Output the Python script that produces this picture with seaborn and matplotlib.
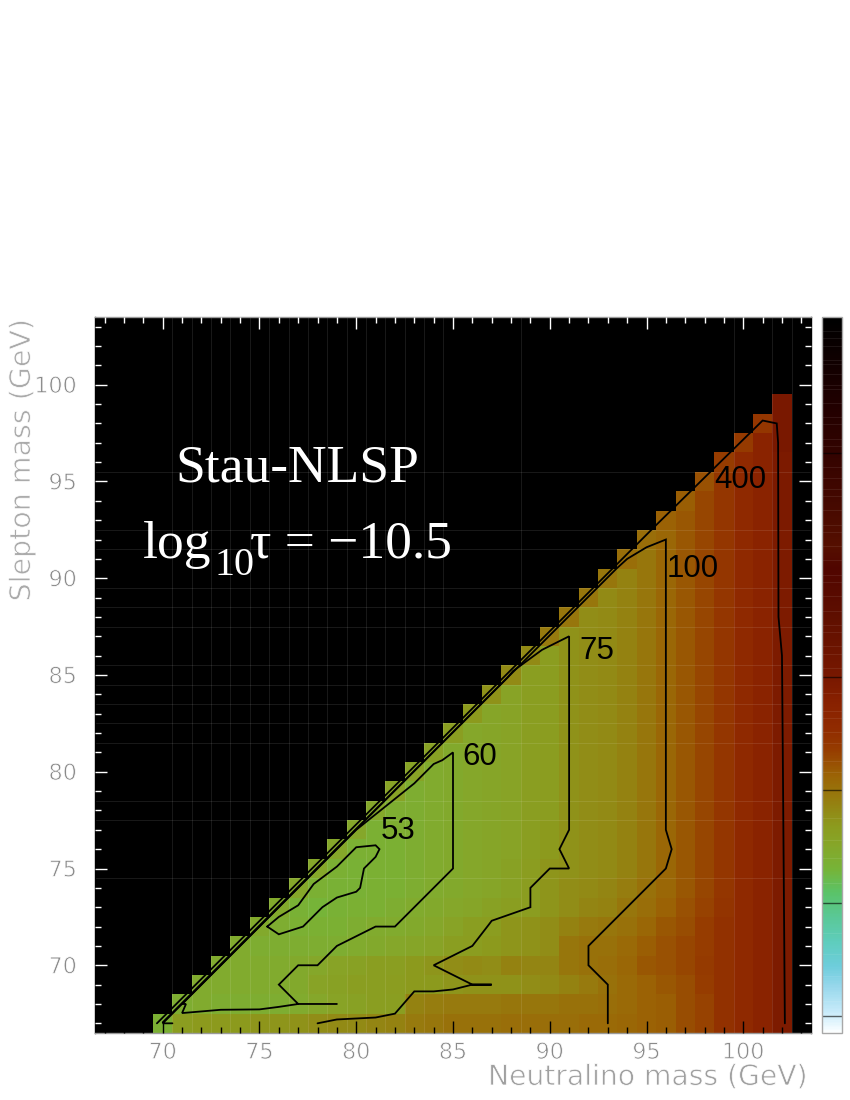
import numpy as np
import pandas as pd
import matplotlib
matplotlib.use("Agg")
import matplotlib.pyplot as plt
import matplotlib.patheffects as pe
from matplotlib.colors import LinearSegmentedColormap
import seaborn as sns

sns.set_theme(style="white")
plt.rcParams["font.family"] = ["Liberation Sans", "DejaVu Sans"]

# ------------------------------------------------------------------ data
x_centres = list(range(67, 104))
y_centres = list(range(67, 104))

T = [30, 30.5, 31, 32, 33.5, 35.5, 37, 38.5, 40.5, 43, 45.5, 48.5]  # x = 91..102, upper rows

# each row: slepton mass -> colour-scale values from x = y + 3 up to x = 102
row_values = {
    99: [49.5],
    98: [40.5, 49.5],
    97: [40, 45.5, 49.5],
    96: [39.5, 43, 45.5, 49],
    95: [37.5, 40.5, 43, 45.5, 49],
    94: [36.5, 38.5, 40.5, 43, 45.5, 49],
    93: [36, 37, 38.5, 40.5, 43, 45.5, 49],
    92: [34.5, 35.5, 37, 38.5, 40.5, 43, 45.5, 48.5],
    91: [34.5, 33.5, 35.5, 37, 38.5, 40.5, 43, 45.5, 48.5],
    90: [33.5, 32, 33.5, 35.5, 37, 38.5, 40.5, 43, 45.5, 48.5],
    89: [33.5, 31, 32, 33.5, 35.5, 37, 38.5, 40.5, 43, 45.5, 48.5],
    88: [33.5] + [30.5, 31, 32, 33.5, 35.5, 37, 38.5, 40.5, 43, 45.5, 48.5],
    87: [33] + T,
    86: [31, 28.5] + T,
    85: [31, 28, 28.5] + T,
    84: [30, 27, 28, 28.5] + T,
    83: [29, 26.5, 27, 28, 28.5] + T,
    82: [28, 26, 26.5, 27, 28, 28.5] + T,
    81: [27.5, 25.5, 26, 26.5, 27, 28, 28.5] + T,
    80: [27, 25, 25.5, 26, 26.5, 27, 28, 28.5] + T,
    79: [27, 24.5, 25, 25.5, 26, 26.5, 27, 28, 28.5] + T,
    78: [26, 24.5, 24.5, 25, 25.5, 26, 26.5, 27, 28, 28.5] + T,
    77: [26, 24, 24.5, 24.5, 25, 25.5, 26, 26.5, 27, 28, 29] + T,
    76: [26, 24, 24, 24, 24.5, 25, 25.5, 26, 26.5, 27, 28, 29] + T,
    75: [26, 24, 23.5, 24, 24, 24.5, 25, 25.5, 26, 26.5, 27.5, 28.5, 29.5] + T,
    74: [26, 24, 23.5, 23.5, 24, 24, 24.5, 25, 25.5, 26, 26.5, 27.5, 28.5, 29.5,
         30.5, 31, 31.5, 32.5, 34, 35.5, 37, 38.5, 40.5, 43, 45.5, 48.5],
    73: [25.5, 23.5, 23, 23.5, 24, 24, 24.5, 25, 25.5, 26, 26.5, 27.5, 28, 28.5, 29.5,
         30.5, 31.5, 32, 33.5, 34.5, 36, 37.5, 39, 41, 43, 45.5, 48.5],
    72: [25.5, 24.5, 24, 24, 24, 24.5, 25, 25, 25.5, 26, 27, 28, 28.5, 29.5, 30, 30.5,
         32, 33, 33.5, 34, 35.5, 37, 38, 39.5, 41.5, 43, 45.5, 48.5],
    71: [25, 24.5, 24.5, 24.5, 24.5, 24.5, 25, 25.5, 26, 26.5, 27, 28, 28.5, 29, 29.5, 30, 30.5,
         33.5, 34, 34, 35, 36.5, 37.5, 38.5, 39.5, 41.5, 43, 45.5, 48.5],
    70: [25, 25, 25, 25, 25.5, 26, 27, 27.5, 28, 28, 29, 29.5, 30.5, 31, 30.5, 32, 31.5, 31.5,
         33.5, 34, 34.5, 35.5, 37, 37.5, 38.5, 40, 41.5, 43, 45.5, 48.5],
    69: [25, 25, 25, 25, 25, 25.5, 27, 27.5, 28, 28, 28.5, 29, 29, 29.5, 30, 30, 30, 30.5, 31,
         32, 33, 34, 35, 36, 37, 38, 39.5, 41.5, 43, 45.5, 48.5],
    68: [24.5, 25, 24.5, 24.5, 24.5, 24.5, 25, 26, 27, 27.5, 28, 28, 32, 32.5, 33, 33, 33, 33.5, 33.5, 33.5,
         34, 34, 34.5, 35, 36, 36.5, 38, 39, 41.5, 43, 45.5, 48.5],
    67: [24, 28.5, 29, 29, 29, 29.5, 29.5, 30, 30.5, 31, 31, 31.5, 32, 33, 33.5, 34, 34, 34, 34.5, 34.5, 34.5,
         34.5, 35, 35, 35.5, 36, 36.5, 38, 39, 41.5, 43, 45.5, 48.5],
}

# contour polylines
c53_x = [75.4, 76, 77.25, 78.25, 79, 80, 80.2, 80.4, 81, 81.2, 81, 80, 79, 77.8, 77, 76, 75.4]
c53_y = [72, 71.6, 72, 73, 73.5, 73.8, 74, 75, 75.6, 76, 76.2, 76.1, 75.1, 74.2, 73.1, 72.5, 72]
c60_x = [79, 77, 76, 77, 78, 79, 81, 82, 85, 85, 84.45, 84, 83, 82, 81, 80, 71, 71.2, 71, 73, 75, 76, 77]
c60_y = [68, 68, 69, 70, 70, 71, 72, 72, 75, 81, 80.6, 80.4, 79.4, 78.6, 77.8, 77, 68, 68, 67.53, 67.7, 67.72, 67.85, 68]
c75_x = [78, 79, 81, 82, 83, 84, 85, 86, 87, 86, 84, 86, 86.85, 87, 89, 89, 90, 91, 90.5, 91, 91, 89.6, 88.1, 87.8, 70, 70.5]
c75_y = [67, 67.2, 67.3, 67.5, 68.65, 68.65, 68.75, 69, 69, 69, 70, 71, 72.1, 72.3, 73, 74, 75, 75, 76, 77, 87, 86.3, 85.2, 84.85, 67, 67]
c100_x = [93, 93, 92, 92, 96, 96.3, 96, 96, 95, 94, 93.45, 92.45, 70]
c100_y = [67, 69, 70, 71, 75, 76, 77, 92, 91.6, 91, 90.5, 89.5, 67.05]
c400_x = [102.15, 102.05, 102, 101.82, 101.8, 101.73, 101, 95.5, 69.7]
c400_y = [67, 80, 86, 88, 97, 98, 98.15, 92.75, 67]

contour_lines = [(c53_x, c53_y), (c60_x, c60_y), (c75_x, c75_y), (c100_x, c100_y), (c400_x, c400_y)]
contour_names = ["53", "60", "75", "100", "400"]
x_ticks = [70, 75, 80, 85, 90, 95, 100]
y_ticks = [70, 75, 80, 85, 90, 95, 100]
x_seams = [70.5, 71.5, 72.5, 73.5, 74.5, 75.5, 76.5, 77.5, 78.5, 79.5, 80.5, 81.5, 82.5, 83.5, 84.5, 88.5, 99.5, 101.5, 102.5]
y_seams = [74.5, 77.5, 78.5, 81.5, 82.5, 83.5, 84.5, 85.5, 87.5, 88.5, 89.5, 91.5, 92.5, 95.5]

# colour-bar scale (0 white ... 100 black)
cb_pos = [0, 0.4, 2.8, 6.5, 9.2, 12.5, 16.2, 19.5, 22.8, 26, 28.8, 32.5, 35.8, 39.5, 42.7, 46.5, 49.7, 58, 65, 68, 77.6, 87, 96, 99.5, 100]
cb_rgb = [(255, 255, 255), (245, 252, 255), (200, 235, 250), (150, 215, 235), (110, 205, 220), (95, 205, 190),
          (90, 200, 150), (90, 195, 105), (118, 180, 56), (133, 167, 42), (140, 155, 30), (150, 125, 15),
          (155, 100, 5), (150, 60, 0), (144, 42, 0), (135, 32, 0), (120, 24, 0), (95, 15, 0), (80, 5, 0),
          (85, 15, 0), (60, 5, 0), (35, 0, 0), (10, 0, 0), (0, 0, 0), (0, 0, 0)]
cb_dark_lines = [2.4, 18.2, 33.9, 49.7, 81]
cb_streaks = [4.5, 8, 11, 14, 21, 24.5, 27, 30, 36.5, 38, 40.5, 42, 44, 45, 47.5, 51, 53, 54, 56, 57, 59, 61, 63, 64,
              66, 68, 70, 71, 73, 75, 76, 77.5, 79, 82, 83, 85, 86, 88, 90, 90.5, 92, 93.5, 94, 96, 97, 98]

# ------------------------------------------------------------------ build
W, H = 850, 1100
fig = plt.figure(figsize=(W / 100, H / 100), dpi=100, facecolor="white")
ax = fig.add_axes([95 / W, (H - 1033) / H, 716 / W, 716 / H])
cax = fig.add_axes([822 / W, (H - 1033) / H, 20 / W, 716 / H])

grid = pd.DataFrame(np.nan, index=y_centres, columns=x_centres, dtype=float)
for yv, vals in row_values.items():
    for i, v in enumerate(vals):
        grid.loc[yv, yv + 3 + i] = v

cmap = LinearSegmentedColormap.from_list(
    "stau", [(p / 100, tuple(c / 255 for c in rgb)) for p, rgb in zip(cb_pos, cb_rgb)], N=512)

ax.set_facecolor("black")
sns.heatmap(grid, ax=ax, cmap=cmap, vmin=0, vmax=100, cbar=True, cbar_ax=cax,
            square=False, linewidths=0, xticklabels=False, yticklabels=False)
ax.set_xlim(0, 37)
ax.set_ylim(0, 37)
ax.set_xlabel("")
ax.set_ylabel("")
ax.set_axisbelow(False)

X0 = 66.5  # lower axis limit on both axes

for v in x_seams:
    ax.axvline(v - X0, color="white", alpha=0.10, lw=0.7, zorder=2)
for v in y_seams:
    ax.axhline(v - X0, color="white", alpha=0.10, lw=0.7, zorder=2)

for (cx, cy), name in zip(contour_lines, contour_names):
    ax.plot(np.array(cx) - X0, np.array(cy) - X0, color="black", lw=1.3, zorder=3,
            solid_joinstyle="miter", label=name)

# ticks
tick_major = [v - X0 for v in x_ticks]
tick_minor = [v - X0 for v in range(67, 104) if v not in x_ticks]
for axis in (ax.xaxis, ax.yaxis):
    axis.set_ticks(tick_major)
    axis.set_ticks(tick_minor, minor=True)
ax.set_xticklabels([str(v) for v in x_ticks])
ax.set_yticklabels([str(v) for v in y_ticks], rotation=0, ha="right")
thin_fx = [pe.Stroke(linewidth=0.55, foreground="white")]
ax.tick_params(axis="both", which="major", direction="in", length=8.6, width=1.0,
               top=True, right=True, bottom=True, left=True, labelsize=16, labelcolor="#8a8a8a", pad=0)
ax.tick_params(axis="both", which="minor", direction="in", length=4.3, width=1.0,
               top=True, right=True, bottom=True, left=True)
ax.tick_params(axis="x", which="major", pad=7)
ax.tick_params(axis="y", which="major", pad=13)
for t in ax.xaxis.get_major_ticks() + ax.xaxis.get_minor_ticks():
    t.tick1line.set_markeredgecolor("black")
    t.tick2line.set_markeredgecolor("white")
for t in ax.yaxis.get_major_ticks() + ax.yaxis.get_minor_ticks():
    t.tick1line.set_markeredgecolor("white")
    t.tick2line.set_markeredgecolor("white")
for tl in ax.get_xticklabels() + ax.get_yticklabels():
    tl.set_fontfamily(["DejaVu Sans"])
    tl.set_path_effects(thin_fx)

for name, sp in ax.spines.items():
    sp.set_visible(True)
    sp.set_color("#9a9a9a" if name in ("top", "bottom") else "black")
    sp.set_linewidth(1.0)

# colour bar
cax.tick_params(left=False, right=False, labelleft=False, labelright=False)
for v in cb_streaks:
    cax.axhline(v, color="white", alpha=0.08, lw=0.8)
for v in cb_dark_lines:
    cax.axhline(v, color="black", alpha=0.6, lw=1.0)
cbar = ax.collections[0].colorbar
cbar.outline.set_edgecolor("#a8a8a8")
cbar.outline.set_linewidth(1.0)
cbar.outline.set_visible(True)


def px_text(px, py, s, **kw):
    return fig.text(px / W, 1 - py / H, s, **kw)


# contour labels
for (px, py, s) in [(398, 831, "53"), (480, 757, "60"), (597, 651, "75"), (693, 569, "100"), (740, 480, "400")]:
    px_text(px, py, s, fontsize=22.5, color="black", ha="center", va="center",
            family=["Liberation Sans"])

# titles in the black triangle
serif = ["Liberation Serif", "DejaVu Serif"]
px_text(297, 482, "Stau-NLSP", fontsize=38.5, color="white", ha="center", va="baseline", family=serif)
px_text(143, 558, "log", fontsize=38.5, color="white", ha="left", va="baseline", family=serif)
px_text(214, 575, "10", fontsize=29, color="white", ha="left", va="baseline", family=serif)
px_text(250, 558, "\u03c4 = \u221210.5", fontsize=38.5, color="white", ha="left", va="baseline", family=serif)

# axis titles
thin = ["DejaVu Sans"]
px_text(808, 1085, "Neutralino mass (GeV)", fontsize=20.3, color="#a0a0a0", ha="right", va="baseline",
        family=thin, path_effects=thin_fx)
px_text(22, 460, "Slepton mass (GeV)", fontsize=20.5, color="#aaaaaa", ha="center", va="center", rotation=90,
        family=thin, path_effects=thin_fx)

fig.savefig("out.png", dpi=100, facecolor="white")
